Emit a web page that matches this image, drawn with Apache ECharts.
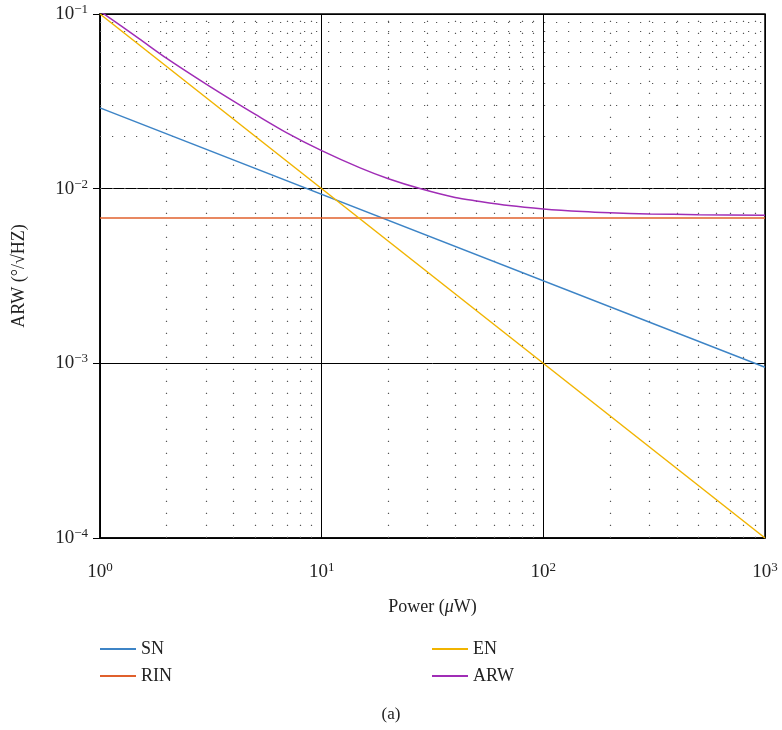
<!DOCTYPE html>
<html>
<head>
<meta charset="utf-8">
<script src="https://cdn.jsdelivr.net/npm/echarts@6/dist/echarts.min.js"></script>
<style>
  html, body { margin: 0; padding: 0; background: #fff; }
  #chart { width: 782px; height: 730px; }
</style>
</head>
<body>
<div id="chart"></div>
<script>
// 数据
const snData = [[1, 0.029], [1000, 0.00095]];
const rinData = [[1, 0.0068], [1000, 0.0068]];
const enData = [[1, 0.1], [1000, 0.0001]];
const arwData = [
  [1, 0.1038], [1.5, 0.0723], [2, 0.0557], [3, 0.0398], [4, 0.0317], [5, 0.0267],
  [7, 0.0208], [10, 0.0165], [15, 0.0131], [20, 0.0114], [28, 0.00998],
  [40, 0.0089], [50, 0.0085], [70, 0.0080], [100, 0.00766], [150, 0.0074],
  [200, 0.00728], [300, 0.00717], [500, 0.0071], [1000, 0.00705]
];
// 次网格线位置
const xMinor = [2, 3, 4, 5, 6, 7, 8, 9, 20, 30, 40, 50, 60, 70, 80, 90, 200, 300, 400, 500, 600, 700, 800, 900];
const yMinor = [2e-4, 3e-4, 4e-4, 5e-4, 6e-4, 7e-4, 8e-4, 9e-4,
  2e-3, 3e-3, 4e-3, 5e-3, 6e-3, 7e-3, 8e-3, 9e-3,
  2e-2, 3e-2, 4e-2, 5e-2, 6e-2, 7e-2, 8e-2, 9e-2];

const serif = '"Liberation Serif", "DejaVu Serif", serif';
const expRich = {
  b: { fontSize: 19, fontFamily: serif, color: '#222' },
  s: { fontSize: 13, fontFamily: serif, color: '#222', padding: [0, 0, 9, 0] }
};
function expLabel(v) {
  const e = Math.round(Math.log10(v));
  return '{b|10}{s|' + (e < 0 ? '\u2212' + (-e) : e) + '}';
}

const chart = echarts.init(document.getElementById('chart'));
const legendText = { fontFamily: serif, fontSize: 18, color: '#222' };
const option = {
  animation: false,
  title: {
    text: '(a)', left: 'center', top: 706, padding: 0,
    textStyle: { fontFamily: serif, fontSize: 17, fontWeight: 'normal', color: '#222' }
  },
  legend: [
    {
      data: ['SN', 'RIN'], orient: 'vertical', left: 100, top: 640, itemGap: 9, padding: 0,
      icon: 'rect', itemWidth: 36, itemHeight: 2, textStyle: legendText
    },
    {
      data: ['EN', 'ARW'], orient: 'vertical', left: 432, top: 640, itemGap: 9, padding: 0,
      icon: 'rect', itemWidth: 36, itemHeight: 2, textStyle: legendText
    }
  ],
  grid: {
    left: 100, right: 17, top: 14, bottom: 192,
    show: true, borderColor: '#000', borderWidth: 1.5, containLabel: false
  },
  xAxis: {
    type: 'log', logBase: 10, min: 1, max: 1000,
    name: 'Power ({i|\u03bc}W)', nameLocation: 'middle', nameGap: 60,
    nameTextStyle: {
      fontFamily: serif, fontSize: 18, color: '#222',
      rich: { i: { fontFamily: serif, fontSize: 18, fontStyle: 'italic', color: '#222' } }
    },
    axisLine: { lineStyle: { color: '#000', width: 1.5 } },
    axisTick: { inside: true, length: 5, lineStyle: { color: '#000' } },
    axisLabel: { margin: 23, fontSize: 19, fontFamily: serif, formatter: expLabel, rich: expRich },
    splitLine: { show: true, lineStyle: { color: '#000', width: 1 } }
  },
  yAxis: {
    type: 'log', logBase: 10, min: 0.0001, max: 0.1,
    name: 'ARW (\u00b0/\u221aHZ)', nameLocation: 'middle', nameGap: 72,
    nameTextStyle: { fontFamily: serif, fontSize: 18, color: '#222' },
    axisLine: { lineStyle: { color: '#000', width: 1.5 } },
    axisTick: { inside: false, length: 7, lineStyle: { color: '#000' } },
    axisLabel: { margin: 12, fontSize: 19, fontFamily: serif, formatter: expLabel, rich: expRich },
    splitLine: { show: true, lineStyle: { color: '#000', width: 1 } }
  },
  series: [
    {
      name: 'SN', type: 'line', data: snData, showSymbol: false,
      lineStyle: { width: 1.5 }, itemStyle: { color: '#3d84c6' }, z: 3
    },
    {
      name: 'RIN', type: 'line', data: rinData, showSymbol: false,
      lineStyle: { width: 1.5 }, itemStyle: { color: '#e0602c' }, z: 3,
      markLine: {
        silent: true, symbol: 'none', animation: false, z: 1,
        label: { show: false },
        lineStyle: { color: '#555', width: 1.2, type: [1.2, 10.8] },
        data: xMinor.map(v => ({ xAxis: v })).concat(yMinor.map(v => ({ yAxis: v })))
      }
    },
    {
      name: 'EN', type: 'line', data: enData, showSymbol: false,
      lineStyle: { width: 1.5 }, itemStyle: { color: '#f1b400' }, z: 3
    },
    {
      name: 'ARW', type: 'line', data: arwData, showSymbol: false, smooth: 0.3,
      lineStyle: { width: 1.5 }, itemStyle: { color: '#a02db6' }, z: 3
    }
  ]
};
chart.setOption(option);
</script>
</body>
</html>
